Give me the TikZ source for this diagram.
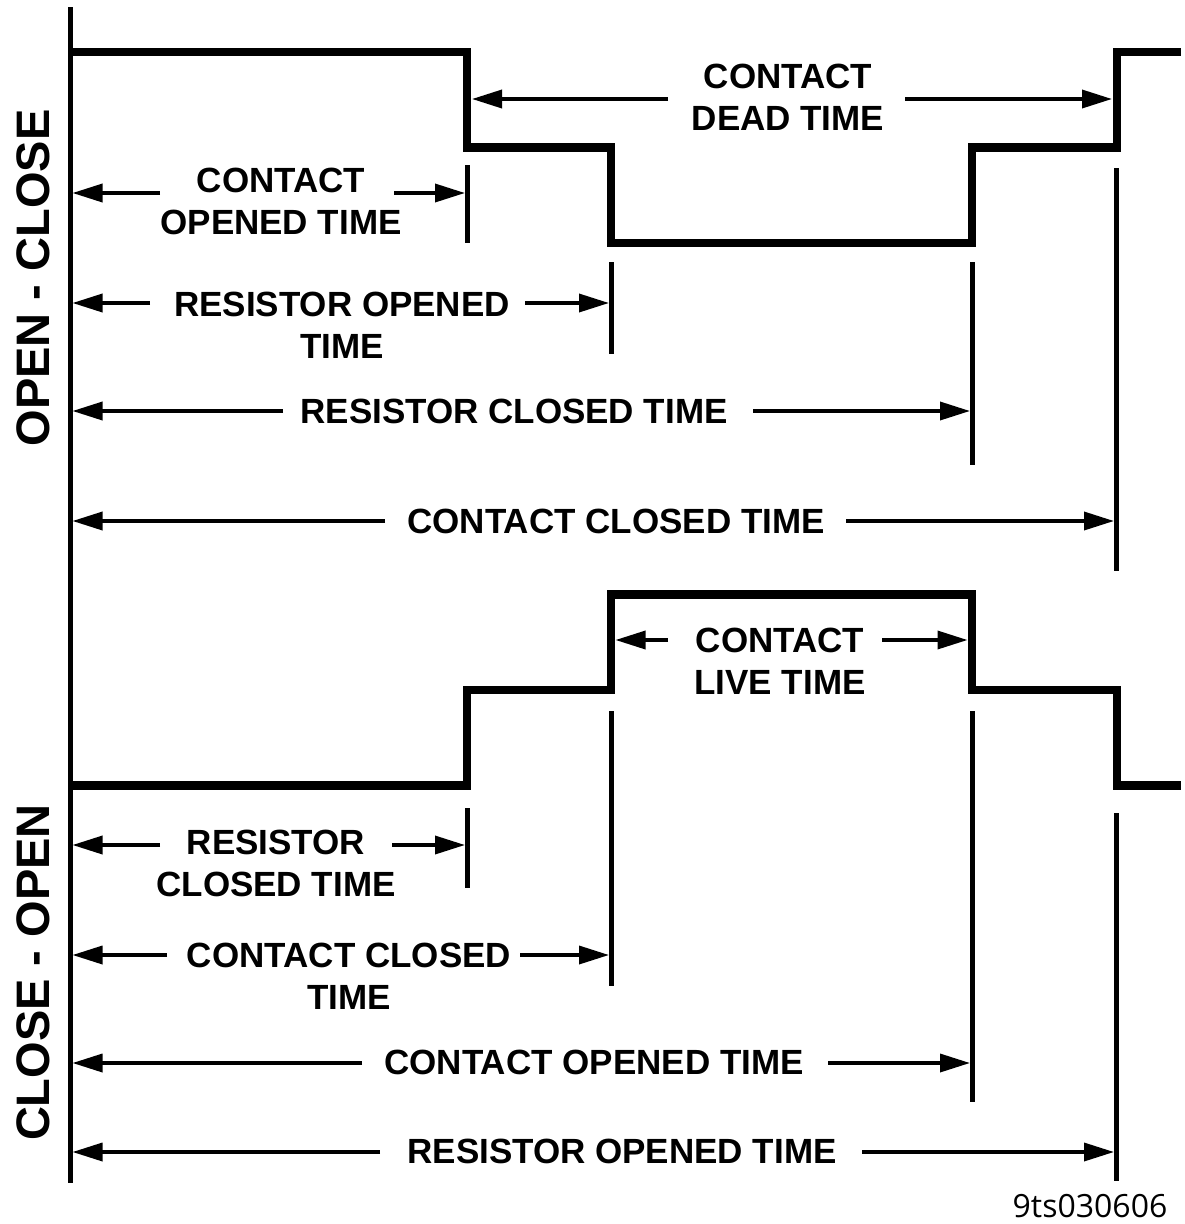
\documentclass[tikz,border=0pt]{standalone}
\usepackage{fontspec}
\setmainfont{Liberation Sans}
\newfontfamily\codefont{Open Sans}
\usetikzlibrary{arrows.meta}
\begin{document}
\begin{tikzpicture}[x=1pt,y=-1pt,
  wave/.style={line width=8.5pt,line join=miter},
  tick/.style={line width=5pt},
  arr/.style={line width=3.5pt,-{Triangle[length=30pt,width=18pt]}},
  lbl/.style={inner sep=0pt,align=center,font=\fontsize{35}{42.5}\selectfont\bfseries},
  side/.style={inner sep=0pt,rotate=90,font=\fontsize{47}{50}\selectfont\bfseries}]
\useasboundingbox (0,0) rectangle (1185,1224);
% axis
\draw[tick] (70,7) -- (70,1183);
% waveforms
\draw[wave] (70,52) -- (467,52) -- (467,147.5) -- (611,147.5) -- (611,243) -- (972,243) -- (972,147.5) -- (1117,147.5) -- (1117,52) -- (1181,52);
\draw[wave] (70,785.5) -- (467,785.5) -- (467,690) -- (611,690) -- (611,594.5) -- (972,594.5) -- (972,690) -- (1117,690) -- (1117,785.5) -- (1181,785.5);
% ticks
\draw[tick] (467,165) -- (467,243);
\draw[tick] (611,262) -- (611,354);
\draw[tick] (972,262) -- (972,465);
\draw[tick] (1116,168) -- (1116,571);
\draw[tick] (467,808) -- (467,888);
\draw[tick] (611,711) -- (611,986);
\draw[tick] (972,711) -- (972,1102);
\draw[tick] (1116,813) -- (1116,1181);
% side labels
\node[side] (oc) at (33,278) {OPEN - CLOSE};
\node[side] (co) at (33,972.5) {CLOSE - OPEN};
% labels and arrows
\node[lbl] (l1) at (788,97.5) {CONTACT\\DEAD TIME};
\draw[arr] (668,99) -- (472,99);
\draw[arr] (905,99) -- (1112,99);

\node[lbl] (l2) at (281,201.5) {CONTACT\\OPENED TIME};
\draw[arr] (160,193) -- (72.5,193);
\draw[arr] (394,193) -- (465,193);

\node[lbl] (l3) at (342,325.5) {RESISTOR OPENED\\TIME};
\draw[arr] (150,303) -- (72.5,303);
\draw[arr] (525,303) -- (609,303);

\node[lbl] (l4) at (514,411) {RESISTOR CLOSED TIME};
\draw[arr] (283,411) -- (72.5,411);
\draw[arr] (753,411) -- (970,411);

\node[lbl] (l5) at (616,521) {CONTACT CLOSED TIME};
\draw[arr] (385,521) -- (72.5,521);
\draw[arr] (846,521) -- (1114,521);

\node[lbl] (l6) at (780,661.5) {CONTACT\\LIVE TIME};
\draw[arr] (668,640) -- (615.5,640);
\draw[arr] (882,640) -- (967.5,640);

\node[lbl] (l7) at (276,863.5) {RESISTOR\\CLOSED TIME};
\draw[arr] (160,845) -- (72.5,845);
\draw[arr] (392,845) -- (465,845);

\node[lbl] (l8) at (349,976.5) {CONTACT CLOSED\\TIME};
\draw[arr] (167,955) -- (72.5,955);
\draw[arr] (520,955) -- (609,955);

\node[lbl] (l9) at (594,1062) {CONTACT OPENED TIME};
\draw[arr] (362,1063) -- (72.5,1063);
\draw[arr] (828,1063) -- (970,1063);

\node[lbl] (l10) at (622,1151) {RESISTOR OPENED TIME};
\draw[arr] (380,1152) -- (72.5,1152);
\draw[arr] (862,1152) -- (1114,1152);

\node[inner sep=0pt,anchor=base,font=\fontsize{32}{34}\codefont] (id) at (1090,1217) {9ts030606};
\end{tikzpicture}
\end{document}
